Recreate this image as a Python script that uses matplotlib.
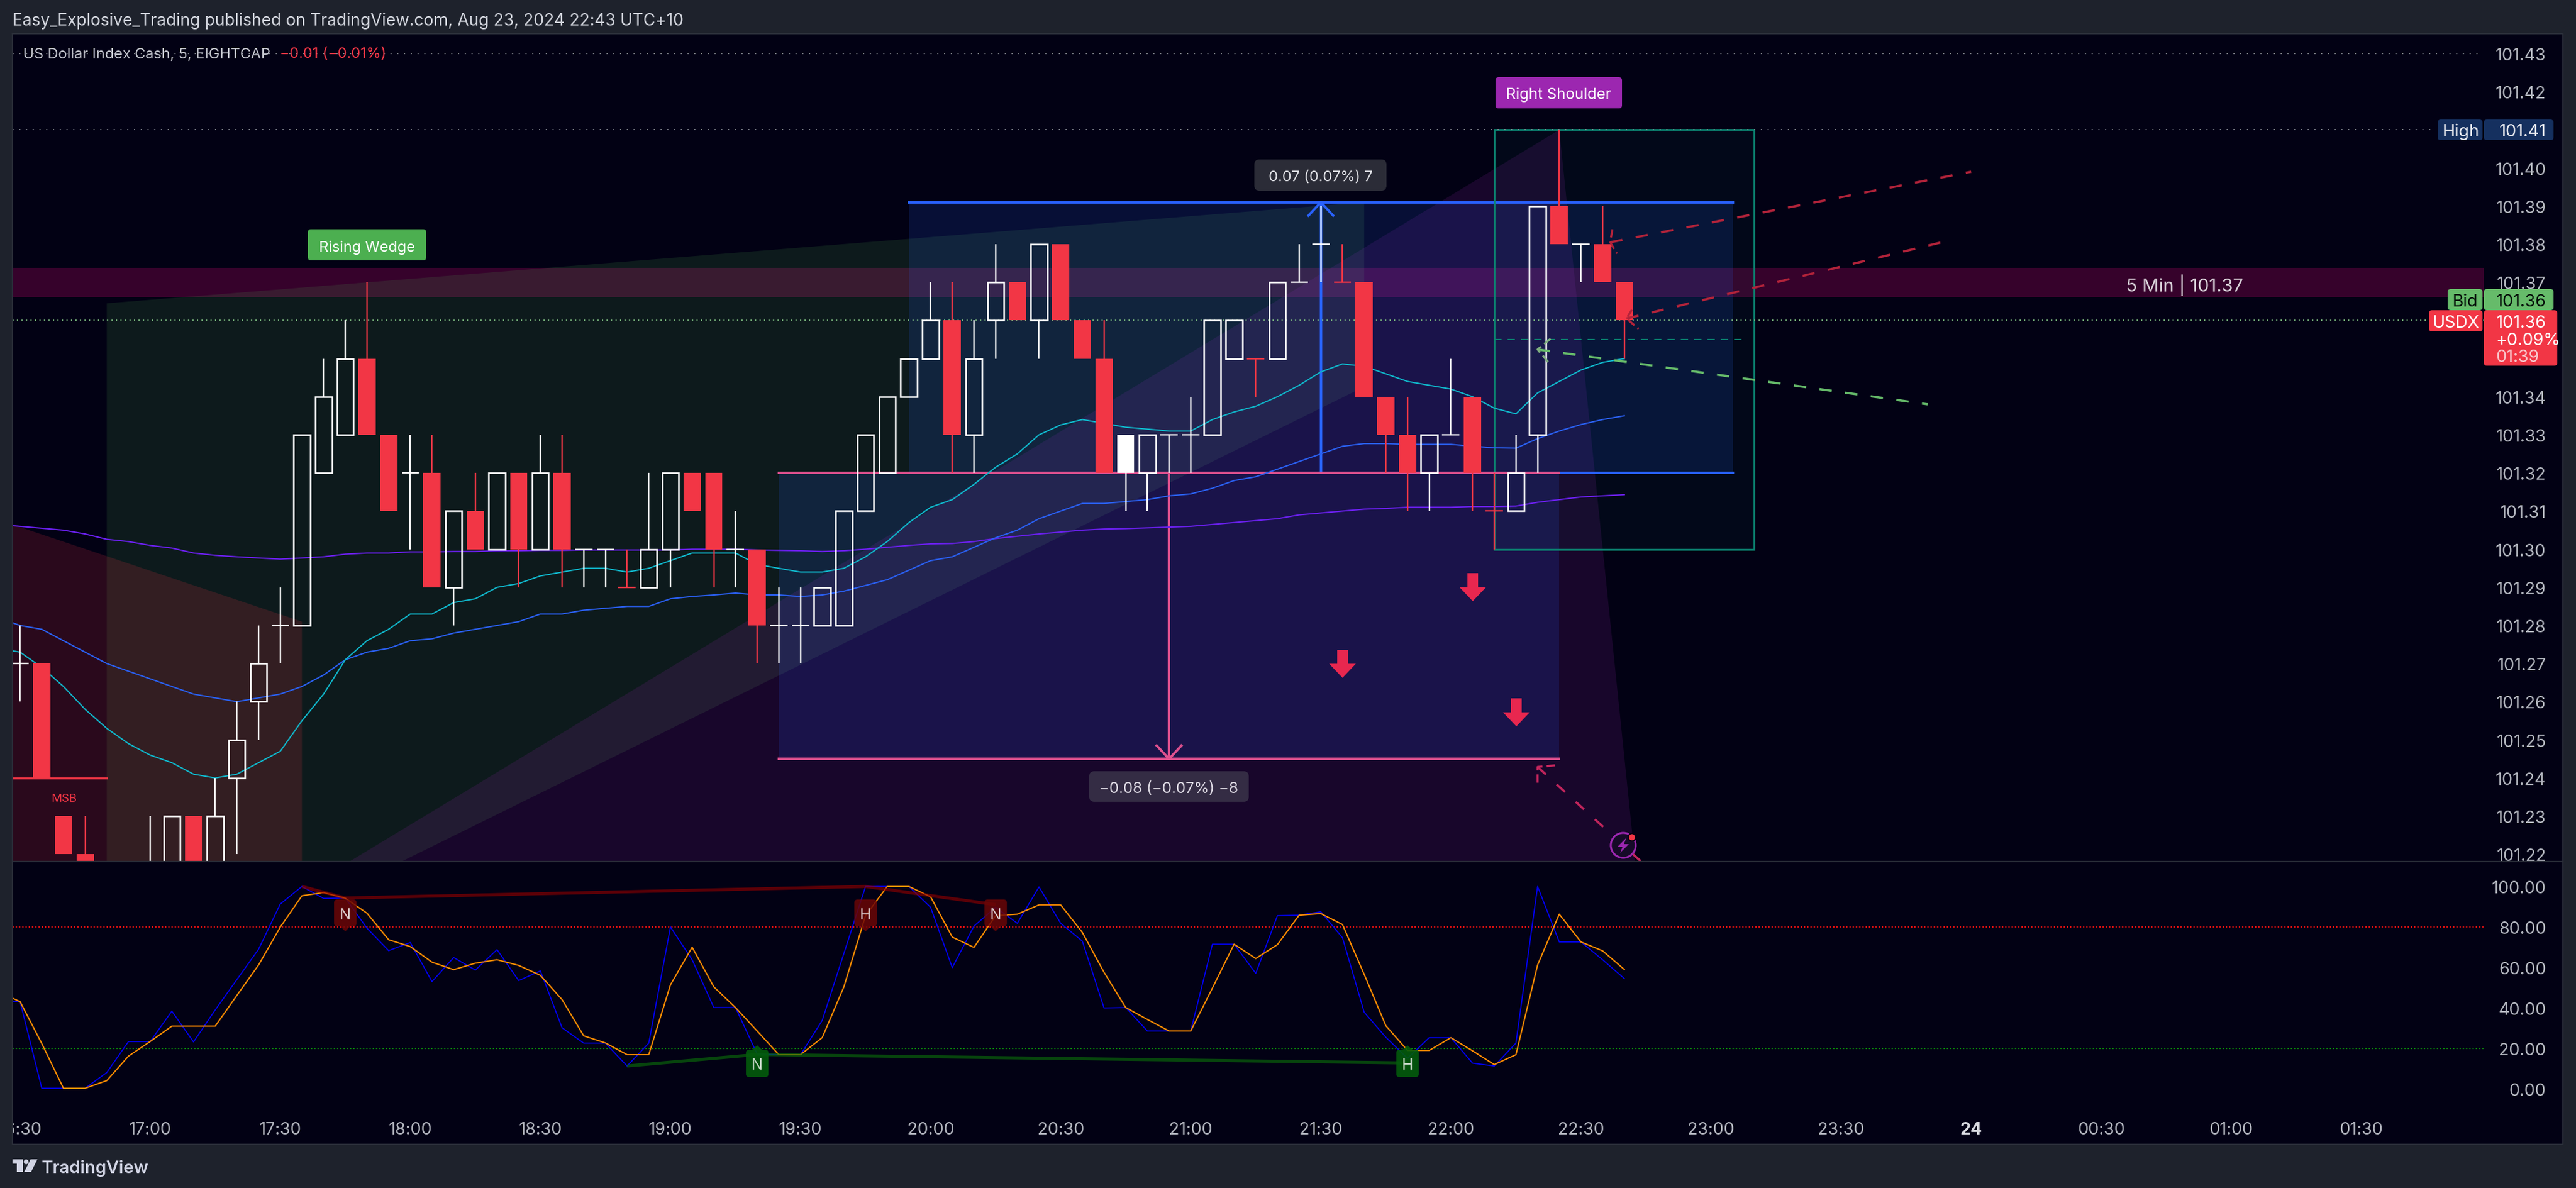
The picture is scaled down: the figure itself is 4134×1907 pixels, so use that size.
# USDX 5 min chart with stochastic pane
import numpy as np
import matplotlib
matplotlib.use('Agg')
import matplotlib.pyplot as plt
from matplotlib.patches import Rectangle, Polygon, FancyBboxPatch, Circle
from matplotlib.path import Path

plt.rcParams['font.family'] = ['Inter', 'DejaVu Sans']

W, H = 4134, 1908
BG = '#020114'
FRAME = '#1e222c'
EDGE = '#2a2e39'
RED = '#f23645'

# Candles, first bar is 16:30, one bar every 5 minutes
first_bar = -6
opens = [101.27, 101.27, 101.23, 101.22, 101.21, 101.20, 101.21, 101.21, 101.23, 101.21,
         101.24, 101.26, 101.28, 101.28, 101.32, 101.33, 101.35, 101.33, 101.32, 101.32,
         101.29, 101.31, 101.30, 101.32, 101.30, 101.32, 101.30, 101.30, 101.29, 101.29,
         101.30, 101.32, 101.32, 101.30, 101.30, 101.28, 101.28, 101.28, 101.28, 101.31,
         101.32, 101.34, 101.35, 101.36, 101.33, 101.36, 101.37, 101.36, 101.38, 101.36,
         101.35, 101.32, 101.32, 101.33, 101.33, 101.33, 101.35, 101.35, 101.35, 101.37,
         101.38, 101.37, 101.37, 101.34, 101.33, 101.32, 101.33, 101.34, 101.31, 101.31,
         101.33, 101.39, 101.38, 101.38, 101.37]
highs = [101.28, 101.27, 101.23, 101.23, 101.21, 101.21, 101.23, 101.23, 101.23, 101.24,
         101.26, 101.28, 101.29, 101.33, 101.35, 101.36, 101.37, 101.33, 101.33, 101.33,
         101.31, 101.32, 101.32, 101.32, 101.33, 101.33, 101.30, 101.30, 101.30, 101.32,
         101.32, 101.32, 101.32, 101.31, 101.30, 101.29, 101.29, 101.29, 101.31, 101.33,
         101.34, 101.35, 101.37, 101.37, 101.36, 101.38, 101.37, 101.38, 101.38, 101.36,
         101.36, 101.33, 101.33, 101.33, 101.34, 101.36, 101.36, 101.35, 101.37, 101.38,
         101.39, 101.38, 101.37, 101.34, 101.34, 101.33, 101.35, 101.34, 101.32, 101.33,
         101.39, 101.41, 101.38, 101.39, 101.37]
lows = [101.26, 101.24, 101.22, 101.21, 101.20, 101.20, 101.20, 101.21, 101.21, 101.21,
        101.22, 101.25, 101.27, 101.28, 101.32, 101.33, 101.33, 101.31, 101.30, 101.29,
        101.28, 101.30, 101.30, 101.29, 101.30, 101.29, 101.29, 101.29, 101.29, 101.29,
        101.29, 101.31, 101.29, 101.29, 101.27, 101.27, 101.27, 101.28, 101.28, 101.31,
        101.32, 101.34, 101.35, 101.32, 101.32, 101.35, 101.36, 101.35, 101.36, 101.35,
        101.32, 101.31, 101.31, 101.32, 101.32, 101.33, 101.35, 101.34, 101.35, 101.37,
        101.37, 101.37, 101.34, 101.32, 101.31, 101.31, 101.33, 101.31, 101.30, 101.31,
        101.32, 101.38, 101.37, 101.37, 101.35]
closes = [101.27, 101.24, 101.22, 101.21, 101.20, 101.21, 101.21, 101.23, 101.21, 101.23,
          101.25, 101.27, 101.28, 101.33, 101.34, 101.35, 101.33, 101.31, 101.32, 101.29,
          101.31, 101.30, 101.32, 101.30, 101.32, 101.30, 101.30, 101.30, 101.29, 101.30,
          101.32, 101.31, 101.30, 101.30, 101.28, 101.28, 101.28, 101.29, 101.31, 101.33,
          101.34, 101.35, 101.36, 101.33, 101.35, 101.37, 101.36, 101.38, 101.36, 101.35,
          101.32, 101.33, 101.33, 101.33, 101.33, 101.36, 101.36, 101.35, 101.37, 101.37,
          101.38, 101.37, 101.34, 101.33, 101.32, 101.33, 101.33, 101.32, 101.31, 101.32,
          101.39, 101.38, 101.38, 101.37, 101.36]
red_dojis = [22, 51, 55, 62]
filled_bars = [45]

# Moving averages, first value is one bar left of the first candle
ma_first = -7
ma_fast = [101.274, 101.273, 101.269, 101.264, 101.258, 101.253, 101.249, 101.246, 101.244, 101.241,
           101.240, 101.241, 101.244, 101.247, 101.255, 101.262, 101.271, 101.276, 101.279, 101.283,
           101.283, 101.286, 101.287, 101.290, 101.291, 101.293, 101.294, 101.295, 101.295, 101.294,
           101.295, 101.297, 101.299, 101.299, 101.299, 101.296, 101.295, 101.294, 101.294, 101.295,
           101.298, 101.302, 101.307, 101.311, 101.313, 101.317, 101.3215, 101.325, 101.330, 101.3326,
           101.334, 101.333, 101.332, 101.3315, 101.331, 101.331, 101.334, 101.336, 101.3375, 101.340,
           101.343, 101.3465, 101.3486, 101.348, 101.346, 101.344, 101.343, 101.342, 101.340, 101.337,
           101.3355, 101.341, 101.344, 101.347, 101.349, 101.350]
ma_mid = [101.282, 101.280, 101.279, 101.276, 101.273, 101.270, 101.268, 101.266, 101.264, 101.262,
          101.261, 101.260, 101.261, 101.262, 101.264, 101.267, 101.271, 101.273, 101.274, 101.276,
          101.2765, 101.278, 101.279, 101.280, 101.281, 101.283, 101.283, 101.284, 101.2845, 101.285,
          101.285, 101.287, 101.2876, 101.288, 101.2885, 101.288, 101.288, 101.2876, 101.288, 101.289,
          101.2905, 101.292, 101.2945, 101.297, 101.298, 101.3005, 101.303, 101.305, 101.308, 101.310,
          101.312, 101.312, 101.3125, 101.313, 101.314, 101.3145, 101.316, 101.318, 101.319, 101.321,
          101.323, 101.325, 101.327, 101.3277, 101.3277, 101.3275, 101.3275, 101.3275, 101.327, 101.3266,
          101.3265, 101.329, 101.331, 101.3327, 101.334, 101.335]
ma_slow = [101.3065, 101.306, 101.3055, 101.305, 101.304, 101.3026, 101.302, 101.301, 101.3003, 101.299,
           101.2984, 101.298, 101.2977, 101.2974, 101.2977, 101.298, 101.2987, 101.299, 101.299, 101.2993,
           101.2993, 101.2994, 101.2994, 101.2996, 101.2996, 101.2997, 101.2997, 101.2998, 101.2998, 101.2998,
           101.2998, 101.2998, 101.300, 101.300, 101.300, 101.2998, 101.2997, 101.2996, 101.2994, 101.2996,
           101.300, 101.3005, 101.301, 101.3014, 101.3015, 101.302, 101.3028, 101.3034, 101.304, 101.3045,
           101.305, 101.3053, 101.3054, 101.3056, 101.3058, 101.306, 101.3065, 101.307, 101.3075, 101.308,
           101.309, 101.3095, 101.310, 101.3105, 101.3107, 101.311, 101.311, 101.311, 101.3112, 101.3112,
           101.3113, 101.3123, 101.313, 101.3137, 101.314, 101.3143]

# Stochastic pane
stoch_k = [43.1, 43.1, 0.3, 0.3, 0.3, 8.1, 23.4, 23.4, 38.4, 23.2,
           39, 54, 69, 91.3, 100, 94.1, 94.3, 79.4, 68.3, 72.3,
           53, 64.9, 58.7, 68.8, 53.5, 58.3, 30.2, 22.6, 22.6, 11.3,
           22.6, 80, 63.8, 40.2, 40.2, 17.2, 16.9, 16.9, 33.8, 66.9,
           100, 100, 100, 89.7, 59.9, 80.4, 89.7, 81.8, 99.8, 81.8,
           73, 40, 40.2, 28.6, 28.6, 28.6, 71.5, 71.5, 57.1, 85.6,
           85.8, 87.5, 74.7, 37.9, 25.5, 15.1, 25.3, 25.3, 12.7, 11.3,
           22.6, 100, 72.6, 72.6, 63.8, 54.5]
stoch_d = [48, 43.1, 22.4, 0.3, 0.3, 4.1, 16.2, 23.4, 31, 31,
           31, 46.2, 61.2, 79.9, 95.4, 97, 94.2, 86.8, 73.7, 70.3,
           62.6, 58.9, 62.1, 63.8, 61, 56.1, 44.1, 26.2, 22.7, 16.9,
           16.9, 51.4, 70, 50.4, 40.2, 28.6, 16.9, 16.9, 25.3, 50.4,
           85.6, 100, 100, 94.9, 75, 69.9, 85.6, 86.3, 90.9, 90.9,
           77.3, 57.6, 40.2, 34.3, 28.6, 28.6, 49.8, 71.5, 64.4, 71.3,
           85.8, 86.6, 81.2, 56.6, 31.2, 19, 19, 25.3, 18.8, 12,
           16.9, 61.2, 86.3, 72.6, 68.2, 59]
bear_div_x = [7, 9, 33, 39]
bear_div_y = [100, 94.3, 100, 91]
bull_div_x = [22, 28, 58]
bull_div_y = [11.3, 17, 12.8]

# Axis labels
price_ticks = [101.22, 101.23, 101.24, 101.25, 101.26, 101.27, 101.28, 101.29, 101.30, 101.31, 101.32,
               101.33, 101.34, 101.37, 101.38, 101.39, 101.40, 101.42, 101.43]
stoch_ticks = [0, 20, 40, 60, 80, 100]
time_ticks = [-6, 0, 6, 12, 18, 24, 30, 36, 42, 48, 54, 60, 66, 72, 78, 84, 90, 96, 102]
time_labels = ['16:30', '17:00', '17:30', '18:00', '18:30', '19:00', '19:30', '20:00', '20:30', '21:00',
               '21:30', '22:00', '22:30', '23:00', '23:30', '24', '00:30', '01:00', '01:30']

# Drawings
wedge_x = [-2, 56, 56, 11.6, -2]
wedge_y = [101.3645, 101.391, 101.3426, 101.2181, 101.2181]
shoulder_x = [9.2, 65, 68.5]
shoulder_y = [101.2181, 101.41, 101.2181]
left_x = [-7, 7, 7, -7]
left_y = [101.3077, 101.281, 101.2181, 101.2181]
down_arrow_x = [55, 61, 63]
down_arrow_y = [101.27, 101.2901, 101.2573]


def xpix(bar):
    return 241 + 34.79 * bar


fig = plt.figure(figsize=(W / 100, H / 100), dpi=100, facecolor=FRAME)


def px_axes(left, top, right, bottom):
    return fig.add_axes([left / W, 1 - bottom / H, (right - left) / W, (bottom - top) / H])


under = px_axes(0, 0, W, H)
under.set_xlim(0, W)
under.set_ylim(H, 0)
under.axis('off')
under.set_zorder(0)
under.add_patch(Rectangle((20, 55), 4093, 1782, facecolor=BG, edgecolor='none'))

xmin, xmax = (20 - 241) / 34.79, (3986 - 241) / 34.79

ax1 = px_axes(20, 55, 3986, 1384)
ax1.set_zorder(1)
ax1.set_xlim(xmin, xmax)
ax1.set_ylim(101.43 - (1384 - 87) / 6120, 101.43 + (87 - 55) / 6120)

ax2 = px_axes(20, 1384, 3986, 1837)
ax2.set_zorder(1)
ax2.set_xlim(xmin, xmax)
ax2.set_ylim(-27.1, 112.3)

for ax in (ax1, ax2):
    ax.set_facecolor('none')
    for s in ax.spines.values():
        s.set_visible(False)
    ax.yaxis.tick_right()

# background zones
ax1.axhspan(101.3661, 101.3738, color=(240 / 255, 10 / 255, 125 / 255), alpha=0.22, lw=0, zorder=1)
ax1.fill(wedge_x, wedge_y, color='#4caf50', alpha=0.15, lw=0, zorder=1)
ax1.fill(left_x, left_y, color=RED, alpha=0.17, lw=0, zorder=1)
ax1.fill(shoulder_x, shoulder_y, color='#9c27b0', alpha=0.15, lw=0, zorder=1)

# long / short measure boxes
ax1.add_patch(Rectangle((35, 101.32), 38, 0.071, facecolor='#2962ff', alpha=0.15, lw=0, zorder=1.2))
ax1.add_patch(Rectangle((29, 101.245), 36, 0.075, facecolor='#2962ff', alpha=0.15, lw=0, zorder=1.2))
ax1.plot([35, 73], [101.391, 101.391], color='#2962ff', lw=2.8, zorder=2)
ax1.plot([35, 73], [101.32, 101.32], color='#2962ff', lw=2.8, zorder=2)
ax1.plot([29, 65], [101.32, 101.32], color='#e0518f', lw=2.8, zorder=2.1)
ax1.plot([29, 65], [101.245, 101.245], color='#e0518f', lw=2.8, zorder=2.1)
ax1.plot([54, 54], [101.32, 101.391], color='#2962ff', lw=2.8, zorder=2)
ax1.plot([53.43, 54, 54.57], [101.3875, 101.391, 101.3875], color='#2962ff', lw=2.8, zorder=2)
ax1.plot([47, 47], [101.32, 101.245], color='#e0518f', lw=2.8, zorder=2)
ax1.plot([46.43, 47, 47.57], [101.2485, 101.245, 101.2485], color='#e0518f', lw=2.8, zorder=2)

# right shoulder box
ax1.add_patch(Rectangle((62, 101.30), 12, 0.11, facecolor='#089981', alpha=0.05, lw=0, zorder=1.3))
ax1.add_patch(Rectangle((62, 101.30), 12, 0.11, facecolor='none', edgecolor='#0b8572', lw=2, zorder=2))
ax1.plot([62, 73.65], [101.355, 101.355], color='#0b8572', lw=1.4, ls=(0, (6, 5)), zorder=2)

# price lines
ax1.plot([xmin, 3980 / 34.79 - 241 / 34.79], [101.43, 101.43], color='#8a8d96', lw=1.3, ls=(0, (1, 5)), zorder=2)
ax1.plot([xmin, 3905 / 34.79 - 241 / 34.79], [101.41, 101.41], color='#9598a1', lw=1.3, ls=(0, (1, 5)), zorder=2)
ax1.plot([xmin, xmax], [101.36, 101.36], color='#7dbb80', lw=1.3, ls=(0, (1, 3)), zorder=2)

# MSB level
ax1.plot([xmin, -2], [101.24, 101.24], color=RED, lw=2.4, zorder=2)

# moving averages
ma_x = np.arange(len(ma_fast)) + ma_first
ax1.plot(ma_x, ma_slow, color='#6a20ee', lw=1.5, zorder=2.5)
ax1.plot(ma_x, ma_mid, color='#2a5ff0', lw=1.5, zorder=2.5)
ax1.plot(ma_x, ma_fast, color='#10b4c8', lw=1.5, zorder=2.5)

# candles
bars = np.arange(len(opens)) + first_bar
o, h, l, c = map(np.array, (opens, highs, lows, closes))
top, bot = np.maximum(o, c), np.minimum(o, c)
is_red = (c < o) | np.isin(bars, red_dojis)
colors = np.where(is_red, RED, 'white')
ax1.vlines(bars, top, h, colors=colors, lw=1.7, zorder=3)
ax1.vlines(bars, l, bot, colors=colors, lw=1.7, zorder=3)
for x, t, b, col, red in zip(bars, top, bot, colors, is_red):
    if t == b:
        ax1.hlines(t, x - 0.4, x + 0.4, colors=col, lw=1.7, zorder=3)
    elif red or x in filled_bars:
        ax1.bar(x, t - b, bottom=b, width=0.8, color=col, lw=0, zorder=3)
    else:
        ax1.bar(x, t - b, bottom=b, width=0.76, facecolor='none', edgecolor=col, lw=1.8, zorder=3)

# dashed projections
ax1.plot([64, 82], [101.3524, 101.338], color='#66bb6a', lw=2.6, ls=(0, (5.5, 6)), zorder=4)
ax1.plot([64.6, 64, 64.5], [101.3552, 101.3524, 101.349], color='#7fae7f', lw=2.4, ls=(0, (4, 2)), zorder=4)
ax1.plot([67.35, 84], [101.3805, 101.399], color='#b2233a', lw=2.6, ls=(0, (5.5, 6)), zorder=4)
ax1.plot([67.45, 67.35, 67.66], [101.3839, 101.3805, 101.3775], color='#b2233a', lw=2.4, ls=(0, (4, 2)), zorder=4)
ax1.plot([68.1, 83], [101.3605, 101.381], color='#b2233a', lw=2.6, ls=(0, (5.5, 6)), zorder=4)
ax1.plot([68.35, 68.1, 68.66], [101.3628, 101.3605, 101.3578], color='#b2233a', lw=2.4, ls=(0, (4, 2)), zorder=4)
ax1.plot([64, 68.75], [101.2429, 101.2182], color='#c2255c', lw=2.6, ls=(0, (5, 6.5)), zorder=4)
ax1.plot([64.8, 64, 64], [101.2433, 101.2429, 101.2385], color='#c2255c', lw=2.4, ls=(0, (4, 2)), zorder=4)

# sell arrows
arrow_path = Path([(-0.38, 1), (0.38, 1), (0.38, 0), (0.95, 0), (0, -1), (-0.95, 0), (-0.38, 0), (-0.38, 1)], closed=True)
ax1.scatter(down_arrow_x, down_arrow_y, marker=arrow_path, s=1050, color='#e8274f', lw=0, zorder=4)

# stochastic
ax2.plot([xmin, xmax], [80, 80], color='#e01010', lw=1.5, ls=(0, (1, 1.5)), zorder=1)
ax2.plot([xmin, xmax], [20, 20], color='#0a8a0a', lw=1.5, ls=(0, (1, 1.5)), zorder=1)
stoch_x = np.arange(len(stoch_k)) + ma_first
ax2.plot(stoch_x, stoch_k, color='#0000f0', lw=1.3, zorder=2)
ax2.plot(stoch_x, stoch_d, color='#ff8c00', lw=1.5, zorder=2.1)
ax2.plot(bear_div_x, bear_div_y, color='#8b0000', alpha=0.65, lw=3.6, solid_capstyle='butt', zorder=3)
ax2.plot(bull_div_x, bull_div_y, color='#0a6a0a', alpha=0.65, lw=3.6, solid_capstyle='butt', zorder=3)

# axes labels
ax1.set_xticks([])
ax1.set_yticks(price_ticks)
ax1.set_yticklabels([f'{p:.2f}' for p in price_ticks])
ax2.set_yticks(stoch_ticks)
ax2.set_yticklabels([f'{v:.2f}' for v in stoch_ticks])
for ax in (ax1, ax2):
    ax.tick_params(axis='y', length=0, pad=72, labelsize=19.5, labelcolor='#b2b5be')
    for t in ax.get_yticklabels():
        t.set_horizontalalignment('right')
ax2.set_xticks(time_ticks)
ax2.set_xticklabels(time_labels)
ax2.tick_params(axis='x', length=0, pad=-26, labelsize=19.5, labelcolor='#b2b5be')
for t, lab in zip(ax2.get_xticklabels(), time_labels):
    if lab == '24':
        t.set_fontweight('bold')
        t.set_color('#d8dae0')

# overlay in pixels: frame, tags, labels
over = px_axes(0, 0, W, H)
over.set_xlim(0, W)
over.set_ylim(H, 0)
over.axis('off')
over.set_zorder(5)


def box(x0, y0, x1, y1, color, r=6, alpha=1, z=2):
    over.add_patch(FancyBboxPatch((x0 + r, y0 + r), x1 - x0 - 2 * r, y1 - y0 - 2 * r,
                                  boxstyle=f'round,pad={r},rounding_size={r}',
                                  facecolor=color, edgecolor='none', alpha=alpha, zorder=z))


def label(x, y, s, color='white', size=19.5, ha='center', **kw):
    over.text(x, y, s, color=color, fontsize=size, ha=ha, va='center_baseline', zorder=6, **kw)


# frame
for rect in [(0, 0, W, 54), (0, 0, 20, H), (4113, 0, 21, H), (0, 1838, W, 70)]:
    over.add_patch(Rectangle(rect[:2], rect[2], rect[3], facecolor=FRAME, edgecolor='none', zorder=1))
over.plot([20, 4113, 4113, 20, 20], [54.5, 54.5, 1837.5, 1837.5, 54.5], color=EDGE, lw=1.6, zorder=1.5)
over.plot([20, 4113], [1384, 1384], color=EDGE, lw=1.6, zorder=1.5)

# header, legend, footer
label(20, 31, 'Easy_Explosive_Trading published on TradingView.com, Aug 23, 2024 22:43 UTC+10',
      color='#d1d4dc', size=19.2, ha='left')
label(37, 85, 'US Dollar Index Cash, 5, EIGHTCAP', color='#c4c6ce', size=17, ha='left')
label(449, 85, '\u22120.01 (\u22120.01%)', color=RED, size=17, ha='left')

over.add_patch(Polygon([(20, 1862), (37, 1862), (37, 1882), (27, 1882), (27, 1869), (20, 1869)],
                       facecolor='#d1d4e4', edgecolor='none', zorder=2))
over.add_patch(Circle((42, 1866), 3.8, facecolor='#d1d4e4', edgecolor='none', zorder=2))
over.add_patch(Polygon([(49, 1862), (60, 1862), (50, 1882), (39, 1882)], facecolor='#d1d4e4', edgecolor='none', zorder=2))
label(67, 1873, 'TradingView', color='#d1d4e4', size=20, ha='left', fontweight='semibold')

# chart labels
box(494, 369, 684, 419, '#4caf50', r=5)
label(589, 395, 'Rising Wedge', size=17)
box(2400, 125, 2603, 175, '#9c27b0', r=5)
label(2501, 150, 'Right Shoulder', size=17.5)
box(2013, 257, 2225, 307, '#2b2c37', r=8)
label(2119, 283, '0.07 (0.07%) 7', color='#dcdde2', size=17)
box(1748, 1239, 2004, 1288, '#342c44', r=8)
label(1876, 1264, '\u22120.08 (\u22120.07%) \u22128', color='#dcd8e2', size=17.5)
label(3506, 454, '5 Min | 101.37', color='#d8d0d8', size=21)
label(103, 1281, 'MSB', color=RED, size=13.5)

# lightning icon
over.add_patch(Circle((2605, 1358), 20, facecolor='#160a28', edgecolor='#9c27b0', lw=2.2, zorder=2))
over.add_patch(Polygon([(2610, 1346), (2596, 1360), (2604, 1360), (2600, 1370), (2614, 1356), (2606, 1356)],
                       facecolor='#9c27b0', edgecolor='none', zorder=3))
over.add_patch(Circle((2619, 1345), 6, facecolor=RED, edgecolor=BG, lw=1.5, zorder=3))

# price tags
box(3912, 193, 3984, 226, '#15305f', r=5)
box(3986, 193, 4098, 226, '#15305f', r=5)
label(3949, 209, 'High', color='#e8eaf0')
label(4086, 209, '101.41', color='#e8eaf0', ha='right')
box(3928, 465, 3984, 499, '#66bb6a', r=5)
box(3986, 465, 4098, 499, '#66bb6a', r=5)
label(3956, 482, 'Bid', color='#05100a')
label(4086, 482, '101.36', color='#05100a', ha='right')
box(3898, 499, 3984, 533, RED, r=5)
box(3986, 499, 4104, 588, RED, r=5)
label(3941, 516, 'USDX')
label(4086, 516, '101.36', ha='right')
label(4005, 544, '+0.09%', ha='left')
label(4005, 571, '01:39', color='#f9c4c9', ha='left')

# divergence labels on the stochastic pane
for bar, txt in [(9, 'N'), (33, 'H'), (39, 'N')]:
    xc = xpix(bar)
    over.add_patch(Polygon([(xc - 9, 1487), (xc + 9, 1487), (xc, 1496)], facecolor='#6a0606', edgecolor='none', alpha=0.85, zorder=2))
    box(xc - 18, 1445, xc + 18, 1488, '#6a0606', r=5, alpha=0.85)
    label(xc, 1467, txt, color='#d8c8c8', size=17.5)
for bar, txt in [(28, 'N'), (58, 'H')]:
    xc = xpix(bar)
    over.add_patch(Polygon([(xc - 9, 1687), (xc + 9, 1687), (xc, 1679)], facecolor='#045c0c', edgecolor='none', alpha=0.9, zorder=2))
    box(xc - 18, 1686, xc + 18, 1730, '#045c0c', r=5, alpha=0.9)
    label(xc, 1708, txt, color='#c8d8c8', size=17.5)

fig.savefig('out.png', dpi=100, facecolor=FRAME)
